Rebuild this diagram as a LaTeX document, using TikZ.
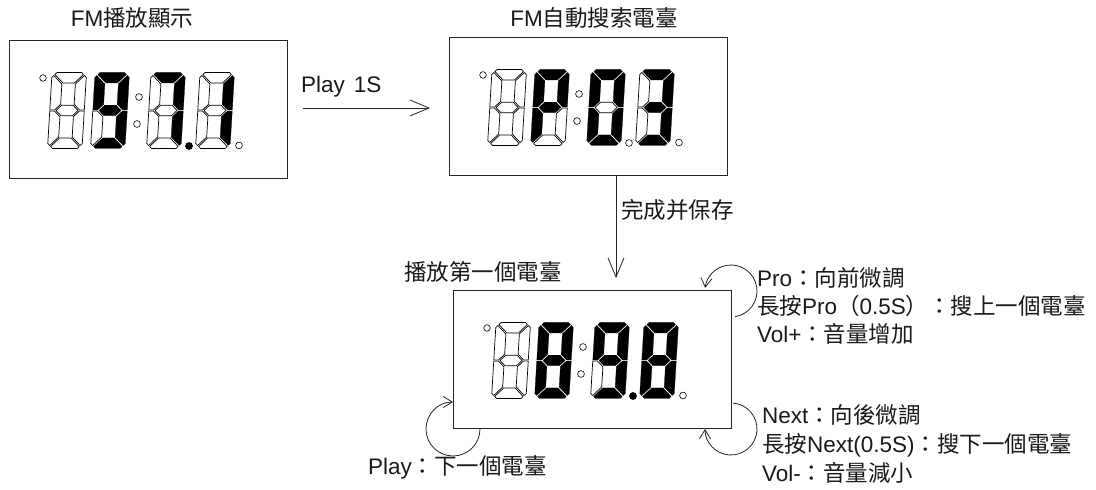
\documentclass[tikz,border=0pt]{standalone}
\usepackage{fontspec}
\setmainfont{Liberation Sans}
\newfontfamily\cjkfont{Noto Sans CJK TC}
\newcommand\zh[1]{{\cjkfont #1}}
\usetikzlibrary{arrows.meta,calc}

% seven-segment geometry (local units = px)
\def\sgS{0.06}  % slant
\def\sgW{34.5}  % width
\def\sgH{76}    % height
\def\sgT{10.5}  % segment thickness
\def\sgK{5}     % outer chamfer
\def\sgU{0.5}   % corner gap
\def\sgD{0.5}   % middle diagonal gap
\def\sgG{0.6}   % middle horizontal half gap
\def\sgM{38}    % middle height
\newcommand\sgseg[2]{\ifnum#1=1 \fill[black] #2; \draw[black,line width=0.25pt,line join=round] #2; \else \draw[black,line width=0.7pt,fill=white,line join=round] #2; \fi}
% #1 node, #2 x offset, #3..#9 segments a..g
\newcommand\sgdigitat[9]{%
\begin{scope}[shift={($(#1.north west)+(#2,-107.5)$)},xslant=\sgS]
\sgseg{#3}{({\sgK/2+\sgU},{\sgH-\sgK/2+\sgU}) -- (\sgK,\sgH) -- ({\sgW-\sgK},\sgH) -- ({\sgW-\sgK/2-\sgU},{\sgH-\sgK/2+\sgU}) -- ({\sgW-\sgT-2*\sgU},{\sgH-\sgT}) -- ({\sgT+2*\sgU},{\sgH-\sgT}) -- cycle}
\sgseg{#4}{({\sgW-\sgK/2+\sgU},{\sgH-\sgK/2-\sgU}) -- (\sgW,{\sgH-\sgK}) -- (\sgW,{\sgM+\sgG}) -- ({\sgW-\sgT/2+2*\sgD-\sgG},{\sgM+\sgG}) -- ({\sgW-\sgT},{\sgM+\sgT/2+2*\sgD}) -- ({\sgW-\sgT},{\sgH-\sgT-2*\sgU}) -- cycle}
\sgseg{#5}{(\sgW,{\sgM-\sgG}) -- (\sgW,\sgK) -- ({\sgW-\sgK/2+\sgU},{\sgK/2+\sgU}) -- ({\sgW-\sgT},{\sgT+2*\sgU}) -- ({\sgW-\sgT},{\sgM-\sgT/2-2*\sgD}) -- ({\sgW-\sgT/2+2*\sgD-\sgG},{\sgM-\sgG}) -- cycle}
\sgseg{#6}{({\sgK/2+\sgU},{\sgK/2-\sgU}) -- (\sgK,0) -- ({\sgW-\sgK},0) -- ({\sgW-\sgK/2-\sgU},{\sgK/2-\sgU}) -- ({\sgW-\sgT-2*\sgU},\sgT) -- ({\sgT+2*\sgU},\sgT) -- cycle}
\sgseg{#7}{(0,{\sgM-\sgG}) -- (0,\sgK) -- ({\sgK/2-\sgU},{\sgK/2+\sgU}) -- (\sgT,{\sgT+2*\sgU}) -- (\sgT,{\sgM-\sgT/2-2*\sgD}) -- ({\sgT/2-2*\sgD+\sgG},{\sgM-\sgG}) -- cycle}
\sgseg{#8}{({\sgK/2-\sgU},{\sgH-\sgK/2-\sgU}) -- (0,{\sgH-\sgK}) -- (0,{\sgM+\sgG}) -- ({\sgT/2-2*\sgD+\sgG},{\sgM+\sgG}) -- (\sgT,{\sgM+\sgT/2+2*\sgD}) -- (\sgT,{\sgH-\sgT-2*\sgU}) -- cycle}
\sgseg{#9}{({\sgT/2+2*\sgD},\sgM) -- ({\sgT+2*\sgD},{\sgM+\sgT/2}) -- ({\sgW-\sgT-2*\sgD},{\sgM+\sgT/2}) -- ({\sgW-\sgT/2-2*\sgD},\sgM) -- ({\sgW-\sgT-2*\sgD},{\sgM-\sgT/2}) -- ({\sgT+2*\sgD},{\sgM-\sgT/2}) -- cycle}
\end{scope}}
\newcommand\sgdots[2]{%
\draw[black,line width=0.6pt] ($(#1.north west)+(34,-37)$) circle[radius=3.3];
\draw[black,line width=0.6pt] ($(#1.north west)+(130,-56)$) circle[radius=3.4];
\draw[black,line width=0.6pt] ($(#1.north west)+(128,-83)$) circle[radius=3.4];
\ifnum#2=1 \fill[black] ($(#1.north west)+(180,-105)$) circle[radius=3.9];
\else \draw[black,line width=0.6pt] ($(#1.north west)+(180,-105)$) circle[radius=3.4]; \fi
\draw[black,line width=0.6pt] ($(#1.north west)+(230,-104.5)$) circle[radius=3.4];}

\begin{document}
\begin{tikzpicture}[x=1pt,y=1pt,
  dispbox/.style={draw=black!85,line width=1pt,rectangle,minimum width=278pt,minimum height=138pt,inner sep=0pt,outer sep=0pt},
  lbl/.style={font=\fontsize{22.5}{28}\selectfont,inner sep=0pt,outer sep=0pt,text=black!90},
  arrbig/.style={draw=black!85,line width=0.8pt,-{Straight Barb[length=19pt,width=16pt,line width=0.8pt]}},
  arrsmall/.style={draw=black!85,line width=0.8pt,-{Straight Barb[length=9pt,width=11pt,line width=0.8pt]}}]
\useasboundingbox (0,0) rectangle (1096,490);

% display boxes
\node[dispbox] (d1) at (148,380) {};
\node[dispbox] (d2) at (588,383) {};
\node[dispbox] (d3) at (592,130) {};

% display 1: 97.1
\sgdigitat{d1}{38.5}0000000
\sgdigitat{d1}{81.5}1111011
\sgdigitat{d1}{137.5}1110000
\sgdigitat{d1}{186.5}0110000
\sgdots{d1}{1}
% display 2: P03
\sgdigitat{d2}{38.5}0000000
\sgdigitat{d2}{81.5}1100111
\sgdigitat{d2}{137.5}1111110
\sgdigitat{d2}{186.5}1111001
\sgdots{d2}{0}
% display 3: 89.8
\sgdigitat{d3}{38.5}0000000
\sgdigitat{d3}{81.5}1111111
\sgdigitat{d3}{137.5}1111011
\sgdigitat{d3}{186.5}1111111
\sgdots{d3}{1}

% titles
\node[lbl,anchor=base] (t1) at (132,463) {FM\zh{播放顯示}};
\node[lbl,anchor=base] (t2) at (594,463) {FM\zh{自動搜索電臺}};
\node[lbl,anchor=base west] (t3) at (404,209.5) {\zh{播放第一個電臺}};

% connectors
\draw[arrbig] ([shift={(16,2)}]d1.east) -- ([shift={(-19,-1)}]d2.west);
\node[lbl,anchor=base west] (l1) at (301,397) {Play\hspace{9pt}1S};
\draw[arrbig] ([xshift=167pt]d2.south west) -- ([shift={(163,13)}]d3.north west);
\node[lbl,anchor=base west] (l2) at (621,271.5) {\zh{完成并保存}};

% loops
\draw[arrsmall] ([shift={(-81:26)}]d3.north east) arc[start angle=-81,end angle=173,radius=26];
\draw[arrsmall] ([shift={(86:26)}]d3.south east) arc[start angle=86,end angle=-180,radius=26];
\draw[arrsmall] ([shift={(0:27)}]d3.south west) arc[start angle=0,end angle=-270,radius=27];

% key descriptions
\node[lbl,anchor=base west] (p1) at (757,203) {Pro\zh{：向前微調}};
\node[lbl,anchor=base west] (p2) at (757,175) {\zh{長按}Pro\zh{（}0.5S\zh{）：搜上一個電臺}};
\node[lbl,anchor=base west] (p3) at (757,147) {Vol+\zh{：音量增加}};
\node[lbl,anchor=base west] (n1) at (762,66) {Next\zh{：向後微調}};
\node[lbl,anchor=base west] (n2) at (762,37) {\zh{長按}Next(0.5S)\zh{：搜下一個電臺}};
\node[lbl,anchor=base west] (n3) at (762,8) {Vol-\zh{：音量減小}};
\node[lbl,anchor=base west] (pl) at (368,15) {Play\zh{：下一個電臺}};
\end{tikzpicture}
\end{document}
